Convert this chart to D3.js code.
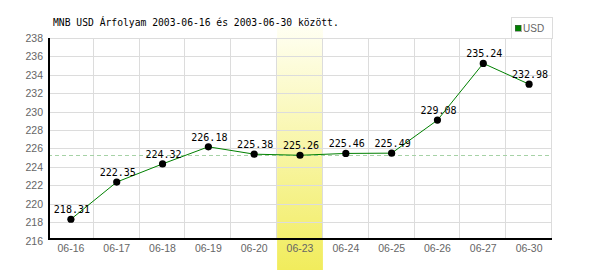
<!DOCTYPE html>
<html>
<head>
<meta charset="utf-8">
<script src="https://d3js.org/d3.v7.min.js"></script>
<style>
  body { margin: 0; background: #fff; }
</style>
</head>
<body>
<div id="chart"></div>
<script>
// data
var days = ["06-16", "06-17", "06-18", "06-19", "06-20", "06-23", "06-24", "06-25", "06-26", "06-27", "06-30"];
var rates = [218.31, 222.35, 224.32, 226.18, 225.38, 225.26, 225.46, 225.49, 229.08, 235.24, 232.98];
var yTicks = [216, 218, 220, 222, 224, 226, 228, 230, 232, 234, 236, 238];
var highlightDay = "06-23";
var refRate = 225.26;
var title = "MNB USD Árfolyam 2003-06-16 és 2003-06-30 között.";
var legendLabel = "USD";

var W = 600, H = 270;
var plotL = 48, plotR = 552, plotT = 38, plotB = 238;

var svg = d3.select("#chart").append("svg")
    .attr("width", W)
    .attr("height", H);

var defs = svg.append("defs");
var grad = defs.append("linearGradient")
    .attr("id", "hl")
    .attr("x1", 0).attr("y1", 0).attr("x2", 0).attr("y2", 1);
grad.append("stop").attr("offset", "0%").attr("stop-color", "#fffff2");
grad.append("stop").attr("offset", "100%").attr("stop-color", "#f1ec5c");

var x = d3.scaleBand()
    .domain(days)
    .range([plotL, plotR]);

var y = d3.scaleLinear()
    .domain([216, 238])
    .range([240.5, plotT]);

// highlighted day
svg.append("rect")
    .attr("x", x(highlightDay))
    .attr("y", 27)
    .attr("width", x.bandwidth())
    .attr("height", H - 27)
    .attr("fill", "url(#hl)");

// grid
var grid = svg.append("g")
    .attr("stroke", "#dcdcdc")
    .attr("stroke-width", 1)
    .attr("shape-rendering", "crispEdges");

grid.selectAll("line.h")
  .data(yTicks.filter(function(d) { return d > 216; }))
  .join("line")
    .attr("class", "h")
    .attr("x1", plotL).attr("x2", plotR)
    .attr("y1", function(d) { return Math.round(y(d)) + 0.5; })
    .attr("y2", function(d) { return Math.round(y(d)) + 0.5; });

grid.selectAll("line.v")
  .data(days)
  .join("line")
    .attr("class", "v")
    .attr("x1", function(d) { return Math.round(x(d) + x.bandwidth()) - 0.5; })
    .attr("x2", function(d) { return Math.round(x(d) + x.bandwidth()) - 0.5; })
    .attr("y1", plotT)
    .attr("y2", plotB);

// legend box
var legend = svg.append("g").attr("shape-rendering", "crispEdges");
legend.append("rect")
    .attr("x", 511.5).attr("y", 17.5)
    .attr("width", 41).attr("height", 21)
    .attr("fill", "#fff")
    .attr("stroke", "#dcdcdc");
legend.append("rect")
    .attr("x", 515).attr("y", 25)
    .attr("width", 6).attr("height", 6)
    .attr("fill", "#008000")
    .attr("stroke", "#555")
    .attr("stroke-width", 0.5);
legend.append("text")
    .attr("x", 523).attr("y", 31.5)
    .attr("font-family", "Liberation Sans, Arial, sans-serif")
    .attr("font-size", "10px")
    .attr("fill", "#666")
    .text(legendLabel);

// reference dashed line
svg.append("line")
    .attr("x1", plotL).attr("x2", plotR)
    .attr("y1", Math.round(y(refRate)) + 0.5)
    .attr("y2", Math.round(y(refRate)) + 0.5)
    .attr("stroke", "#a6d2a6")
    .attr("stroke-dasharray", "4,3")
    .attr("shape-rendering", "crispEdges");

// axes lines
svg.append("line")
    .attr("x1", plotL + 0.5).attr("x2", plotL + 0.5)
    .attr("y1", plotT).attr("y2", plotB + 1)
    .attr("stroke", "#000")
    .attr("stroke-width", 2)
    .attr("shape-rendering", "crispEdges");
svg.append("line")
    .attr("x1", plotL).attr("x2", plotR)
    .attr("y1", plotB + 0.5).attr("y2", plotB + 0.5)
    .attr("stroke", "#000")
    .attr("stroke-width", 2)
    .attr("shape-rendering", "crispEdges");

// tick labels
svg.append("g")
    .attr("font-family", "Liberation Sans, Arial, sans-serif")
    .attr("font-size", "10.5px")
    .attr("fill", "#666")
    .attr("text-anchor", "end")
  .selectAll("text")
  .data(yTicks)
  .join("text")
    .attr("x", 43)
    .attr("y", function(d) { return y(d) + 4; })
    .text(function(d) { return d; });

svg.append("g")
    .attr("font-family", "Liberation Sans, Arial, sans-serif")
    .attr("font-size", "10.5px")
    .attr("fill", "#666")
    .attr("text-anchor", "middle")
  .selectAll("text")
  .data(days)
  .join("text")
    .attr("x", function(d) { return x(d) + x.bandwidth() / 2; })
    .attr("y", 252)
    .text(function(d) { return d; });

// series
var line = d3.line()
    .x(function(d, i) { return x(days[i]) + x.bandwidth() / 2; })
    .y(function(d) { return y(d); });

svg.append("path")
    .datum(rates)
    .attr("fill", "none")
    .attr("stroke", "#008000")
    .attr("stroke-width", 1)
    .attr("d", line);

svg.append("g")
  .selectAll("circle")
  .data(rates)
  .join("circle")
    .attr("cx", function(d, i) { return x(days[i]) + x.bandwidth() / 2; })
    .attr("cy", function(d) { return y(d); })
    .attr("r", 3.6)
    .attr("fill", "#000");

svg.append("g")
    .attr("font-family", "DejaVu Sans Mono, monospace")
    .attr("font-size", "10px")
    .attr("fill", "#000")
    .attr("text-anchor", "middle")
  .selectAll("text")
  .data(rates)
  .join("text")
    .attr("x", function(d, i) { return x(days[i]) + x.bandwidth() / 2 + 1; })
    .attr("y", function(d) { return y(d) - 6; })
    .text(function(d) { return d.toFixed(2); });

// title
svg.append("text")
    .attr("x", 53)
    .attr("y", 25.5)
    .attr("font-family", "DejaVu Sans Mono, monospace")
    .attr("font-size", "9.7px")
    .attr("fill", "#000")
    .text(title);
</script>
</body>
</html>
